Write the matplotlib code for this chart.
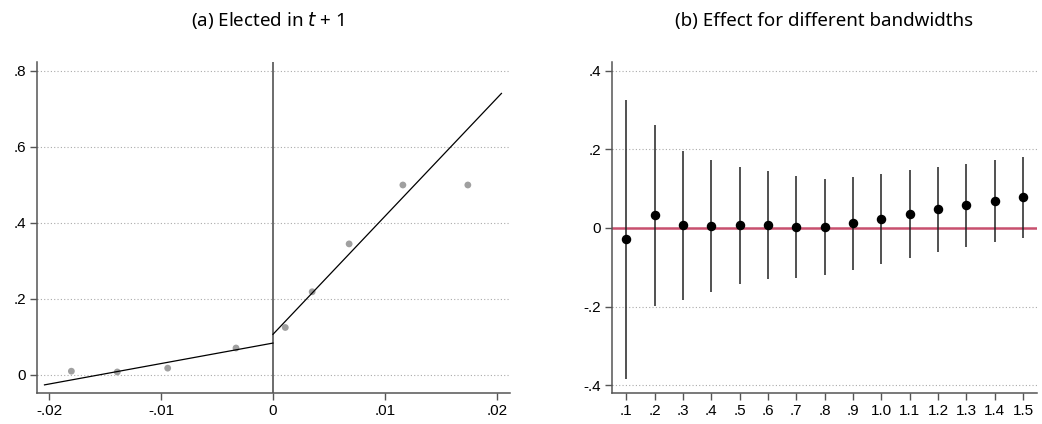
import numpy as np
import matplotlib.pyplot as plt

# panel (a): binned means and linear fits on each side of the cutoff
bin_x = [-0.0180, -0.0139, -0.0094, -0.0033, 0.0011, 0.0035, 0.0068, 0.0116, 0.0174]
bin_y = [0.010, 0.008, 0.018, 0.071, 0.125, 0.219, 0.345, 0.500, 0.500]
fit_left_x = [-0.0204, 0.0]
fit_left_y = [-0.026, 0.084]
fit_right_x = [0.0, 0.0204]
fit_right_y = [0.107, 0.741]

# panel (b): estimates with confidence intervals by bandwidth
bandwidths = ['.1', '.2', '.3', '.4', '.5', '.6', '.7', '.8', '.9',
              '1.0', '1.1', '1.2', '1.3', '1.4', '1.5']
estimate = [-0.029, 0.032, 0.007, 0.005, 0.007, 0.007, 0.001, 0.002,
            0.012, 0.023, 0.035, 0.048, 0.057, 0.068, 0.078]
ci_low = [-0.384, -0.198, -0.183, -0.163, -0.143, -0.131, -0.128, -0.120,
          -0.106, -0.092, -0.077, -0.062, -0.049, -0.036, -0.025]
ci_high = [0.326, 0.261, 0.196, 0.173, 0.156, 0.145, 0.131, 0.125,
           0.130, 0.137, 0.146, 0.155, 0.163, 0.172, 0.181]

tick_font = 'Liberation Sans'
title_font = 'Noto Sans'
spine_col = '#555555'

fig = plt.figure(figsize=(10.42, 4.24), dpi=100)
ax1 = fig.add_axes([0.0355, 0.0731, 0.4539, 0.7807])
ax2 = fig.add_axes([0.5876, 0.0731, 0.4073, 0.7807])

for ax in (ax1, ax2):
    for s in ('top', 'right'):
        ax.spines[s].set_visible(False)
    for s in ('left', 'bottom'):
        ax.spines[s].set_color(spine_col)
        ax.spines[s].set_linewidth(1.1)
    ax.tick_params(direction='out', length=5, width=1, color=spine_col,
                   labelsize=11, pad=3)
    ax.grid(axis='y', linestyle=(0, (1, 2)), color='#aaaaaa', linewidth=0.8)
    ax.set_axisbelow(True)

# (a)
ax1.axvline(0, color='#444444', linewidth=1.1, zorder=2)
ax1.scatter(bin_x, bin_y, s=24, color='#a0a0a0', edgecolors='none', zorder=3)
ax1.plot(fit_left_x, fit_left_y, color='black', linewidth=0.9, zorder=4)
ax1.plot(fit_right_x, fit_right_y, color='black', linewidth=0.9, zorder=4)
ax1.set_xlim(-0.02107, 0.02116)
ax1.set_ylim(-0.0474, 0.8237)
ax1.set_xticks([-0.02, -0.01, 0, 0.01, 0.02])
ax1.set_xticklabels(['-.02', '-.01', '0', '.01', '.02'])
ax1.set_yticks([0, 0.2, 0.4, 0.6, 0.8])
ax1.set_yticklabels(['0', '.2', '.4', '.6', '.8'])
ax1.set_title('(a) Elected in $\\mathit{t}$ + 1', fontsize=13.5,
              family=title_font, pad=26, x=0.487)

# (b)
pos = np.arange(1, len(bandwidths) + 1)
ax2.axhline(0, color='#c8506e', linewidth=1.8, zorder=2)
ax2.vlines(pos, ci_low, ci_high, color='#222222', linewidth=1.1, zorder=3)
ax2.scatter(pos, estimate, s=34, color='black', zorder=4)
ax2.set_xlim(0.506, 15.48)
ax2.set_ylim(-0.42, 0.422)
ax2.set_xticks(pos)
ax2.set_xticklabels(bandwidths)
ax2.set_yticks([-0.4, -0.2, 0, 0.2, 0.4])
ax2.set_yticklabels(['-.4', '-.2', '0', '.2', '.4'])
ax2.set_title('(b) Effect for different bandwidths', fontsize=13.5,
              family=title_font, pad=26)

for ax in (ax1, ax2):
    for lab in ax.get_xticklabels() + ax.get_yticklabels():
        lab.set_family(tick_font)

fig.savefig('out.png', dpi=100)
